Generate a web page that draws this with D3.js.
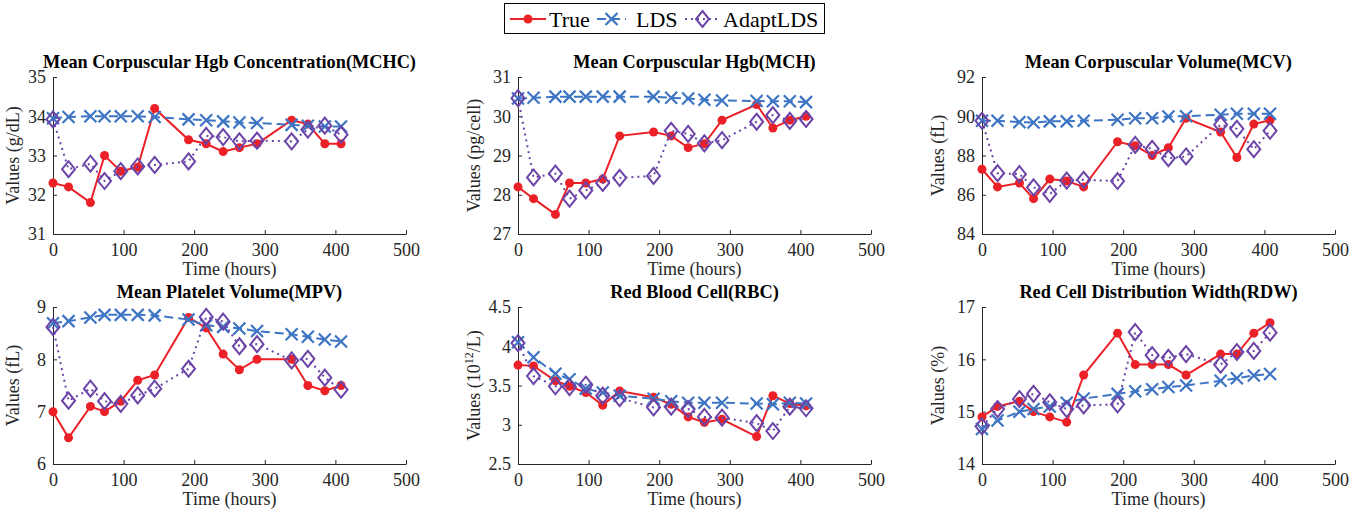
<!DOCTYPE html>
<html>
<head>
<meta charset="utf-8">
<script src="https://cdn.jsdelivr.net/npm/d3@7"></script>
<style>
	body { margin: 0; background: #fff; }
	svg { display: block; font-family: "Liberation Serif", "Times New Roman", serif; }
	.tick text { fill: #262626; }
</style>
</head>
<body>
<svg id="chart" width="1364" height="512"></svg>
<script>
// sample times (hours)
var times = [0, 22, 53, 73, 96, 120, 144, 192, 217, 241, 264, 289, 338, 361, 385, 408];

var mchcTrue  = [32.3, 32.2, 31.8, 33.0, 32.6, 32.7, 34.2, 33.4, 33.3, 33.1, 33.2, 33.3, 33.9, 33.8, 33.3, 33.3];
var mchcLds   = [33.95, 33.98, 34.0, 34.0, 34.0, 34.0, 33.98, 33.92, 33.9, 33.87, 33.84, 33.83, 33.78, 33.76, 33.74, 33.74];
var mchcAdapt = [33.92, 32.65, 32.79, 32.35, 32.6, 32.72, 32.76, 32.85, 33.5, 33.47, 33.36, 33.38, 33.36, 33.66, 33.76, 33.53];

var mchTrue  = [28.2, 27.9, 27.5, 28.3, 28.3, 28.4, 29.5, 29.6, 29.5, 29.2, 29.3, 29.9, 30.3, 29.7, 29.9, 30.0];
var mchLds   = [30.45, 30.47, 30.5, 30.5, 30.5, 30.5, 30.5, 30.5, 30.47, 30.45, 30.42, 30.4, 30.39, 30.38, 30.38, 30.36];
var mchAdapt = [30.46, 28.44, 28.54, 27.9, 28.11, 28.3, 28.43, 28.48, 29.63, 29.55, 29.31, 29.39, 29.86, 30.03, 29.88, 29.93];

var mcvTrue  = [87.3, 86.4, 86.6, 85.8, 86.8, 86.7, 86.4, 88.7, 88.5, 88.0, 88.4, 89.9, 89.2, 87.9, 89.6, 89.8];
var mcvLds   = [89.77, 89.77, 89.7, 89.68, 89.74, 89.74, 89.77, 89.82, 89.9, 89.9, 89.99, 90.0, 90.08, 90.13, 90.13, 90.13];
var mcvAdapt = [89.77, 87.1, 87.05, 86.38, 86.04, 86.72, 86.76, 86.7, 88.54, 88.34, 87.86, 87.95, 89.57, 89.36, 88.32, 89.26];

var mpvTrue  = [7.0, 6.5, 7.1, 7.0, 7.2, 7.6, 7.7, 8.8, 8.6, 8.1, 7.8, 8.0, 8.0, 7.5, 7.4, 7.5];
var mpvLds   = [8.69, 8.73, 8.8, 8.85, 8.85, 8.85, 8.84, 8.76, 8.65, 8.62, 8.59, 8.54, 8.48, 8.43, 8.38, 8.34];
var mpvAdapt = [8.62, 7.21, 7.44, 7.2, 7.15, 7.31, 7.44, 7.82, 8.81, 8.72, 8.25, 8.29, 7.98, 8.01, 7.65, 7.42];

var rbcTrue  = [3.76, 3.75, 3.56, 3.49, 3.41, 3.25, 3.43, 3.35, 3.26, 3.1, 3.03, 3.07, 2.85, 3.37, 3.27, 3.24];
var rbcLds   = [4.05, 3.86, 3.65, 3.58, 3.46, 3.41, 3.37, 3.33, 3.3, 3.28, 3.28, 3.28, 3.27, 3.26, 3.28, 3.27];
var rbcAdapt = [4.04, 3.62, 3.49, 3.48, 3.51, 3.37, 3.34, 3.22, 3.23, 3.2, 3.1, 3.09, 3.02, 2.92, 3.23, 3.21];

var rdwTrue  = [14.9, 15.1, 15.2, 15.0, 14.9, 14.8, 15.7, 16.5, 15.9, 15.9, 15.9, 15.7, 16.1, 16.1, 16.5, 16.7];
var rdwLds   = [14.67, 14.83, 15.0, 15.05, 15.1, 15.17, 15.25, 15.34, 15.39, 15.43, 15.47, 15.5, 15.59, 15.64, 15.69, 15.72];
var rdwAdapt = [14.72, 15.05, 15.24, 15.34, 15.18, 15.05, 15.12, 15.14, 16.52, 16.08, 16.03, 16.1, 15.9, 16.14, 16.16, 16.51];

var seriesNames = ['True', 'LDS', 'AdaptLDS'];
var xTicks = [0, 100, 200, 300, 400, 500];

var panels = [
	{ title: 'Mean Corpuscular Hgb Concentration(MCHC)', unit: 'g/dL', domain: [31, 35], ticks: [31, 32, 33, 34, 35], data: [mchcTrue, mchcLds, mchcAdapt] },
	{ title: 'Mean Corpuscular Hgb(MCH)', unit: 'pg/cell', domain: [27, 31], ticks: [27, 28, 29, 30, 31], data: [mchTrue, mchLds, mchAdapt] },
	{ title: 'Mean Corpuscular Volume(MCV)', unit: 'fL', domain: [84, 92], ticks: [84, 86, 88, 90, 92], data: [mcvTrue, mcvLds, mcvAdapt] },
	{ title: 'Mean Platelet Volume(MPV)', unit: 'fL', domain: [6, 9], ticks: [6, 7, 8, 9], data: [mpvTrue, mpvLds, mpvAdapt] },
	{ title: 'Red Blood Cell(RBC)', unit: 'rbc', domain: [2.5, 4.5], ticks: [2.5, 3, 3.5, 4, 4.5], data: [rbcTrue, rbcLds, rbcAdapt] },
	{ title: 'Red Cell Distribution Width(RDW)', unit: '%', domain: [14, 17], ticks: [14, 15, 16, 17], data: [rdwTrue, rdwLds, rdwAdapt] }
];

var colors = ['#ec2027', '#3d75c4', '#6b44a8'];
var dashes = [null, '9,5', '2,4'];
var axisColor = '#262626';

var svg = d3.select('#chart');

var lefts = [53, 518, 982];
var tops = [77, 307];
var plotW = 353, plotH = 157;

// marker drawing
function drawMarker(g, kind, x, y, color){
	if (kind == 0){
		g.append('circle').attr('cx', x).attr('cy', y).attr('r', 4.5).attr('fill', color);
	}else if (kind == 1){
		var s = 6;
		g.append('path')
			.attr('d', 'M' + (x - s) + ',' + (y - s) + 'L' + (x + s) + ',' + (y + s) + 'M' + (x - s) + ',' + (y + s) + 'L' + (x + s) + ',' + (y - s))
			.attr('stroke', color).attr('stroke-width', 2.2).attr('fill', 'none');
	}else{
		var w = 6.5, h = 8;
		g.append('path')
			.attr('d', 'M' + x + ',' + (y - h) + 'L' + (x + w) + ',' + y + 'L' + x + ',' + (y + h) + 'L' + (x - w) + ',' + y + 'Z')
			.attr('stroke', color).attr('stroke-width', 2).attr('fill', 'none');
	}
}

panels.forEach(function(p, i){
	var left = lefts[i % 3];
	var top = tops[Math.floor(i / 3)];
	var g = svg.append('g').attr('transform', 'translate(' + left + ',' + top + ')');

	var x = d3.scaleLinear().domain([0, 500]).range([0, plotW]);
	var y = d3.scaleLinear().domain(p.domain).range([plotH, 0]);

	// axes, ticks pointing inward
	var xAxis = d3.axisBottom(x).tickValues(xTicks).tickSizeInner(-4).tickSizeOuter(0).tickPadding(9);
	var yAxis = d3.axisLeft(y).tickValues(p.ticks).tickSizeInner(-4).tickSizeOuter(0).tickPadding(7)
		.tickFormat(function(d){ return d3.format('')(d); });

	var gx = g.append('g').attr('transform', 'translate(0,' + plotH + ')').call(xAxis);
	var gy = g.append('g').call(yAxis);
	[gx, gy].forEach(function(a){
		a.selectAll('path').attr('stroke', axisColor).attr('stroke-width', 1);
		a.selectAll('line').attr('stroke', axisColor).attr('stroke-width', 1);
		a.selectAll('text').attr('font-size', 18).attr('font-family', '"Liberation Serif", serif').attr('fill', axisColor);
	});

	// title
	g.append('text')
		.attr('x', plotW / 2).attr('y', -9)
		.attr('text-anchor', 'middle')
		.attr('font-size', 18.3).attr('font-weight', 'bold')
		.attr('fill', '#000')
		.text(p.title);

	// x label
	g.append('text')
		.attr('x', plotW / 2).attr('y', plotH + 41)
		.attr('text-anchor', 'middle')
		.attr('font-size', 18).attr('fill', axisColor)
		.text('Time (hours)');

	// y label
	var yl = g.append('text')
		.attr('transform', 'translate(' + (i % 3 == 0 ? -34 : -38) + ',' + (plotH / 2) + ') rotate(-90)')
		.attr('text-anchor', 'middle')
		.attr('font-size', 18).attr('fill', axisColor);
	if (p.unit == 'rbc'){
		yl.append('tspan').text('Values (10');
		yl.append('tspan').attr('dy', -7).attr('font-size', 12).text('12');
		yl.append('tspan').attr('dy', 7).text('/L)');
	}else{
		yl.text('Values (' + p.unit + ')');
	}

	// series
	p.data.forEach(function(vals, k){
		var pts = times.map(function(t, j){ return [t, vals[j]]; });
		var line = d3.line().x(function(d){ return x(d[0]); }).y(function(d){ return y(d[1]); });
		var sg = g.append('g');
		sg.append('path')
			.attr('d', line(pts))
			.attr('fill', 'none')
			.attr('stroke', colors[k])
			.attr('stroke-width', 2)
			.attr('stroke-dasharray', dashes[k]);
		pts.forEach(function(d){
			drawMarker(sg, k, x(d[0]), y(d[1]), colors[k]);
		});
	});
});

// legend
var lg = svg.append('g');
lg.append('rect').attr('x', 504.5).attr('y', 3.5).attr('width', 320).attr('height', 30)
	.attr('fill', '#fff').attr('stroke', '#000').attr('stroke-width', 1);
var legendItems = [
	{ x1: 510, x2: 546, tx: 549 },
	{ x1: 597, x2: 626, tx: 636 },
	{ x1: 685, x2: 720, tx: 723 }
];
legendItems.forEach(function(it, k){
	var cy = 19;
	lg.append('line').attr('x1', it.x1).attr('x2', it.x2).attr('y1', cy).attr('y2', cy)
		.attr('stroke', colors[k]).attr('stroke-width', 2).attr('stroke-dasharray', dashes[k]);
	drawMarker(lg, k, (it.x1 + it.x2) / 2, cy, colors[k]);
	lg.append('text').attr('x', it.tx).attr('y', cy + 7.5)
		.attr('font-size', 22).attr('fill', '#000')
		.text(seriesNames[k]);
});
</script>
</body>
</html>
